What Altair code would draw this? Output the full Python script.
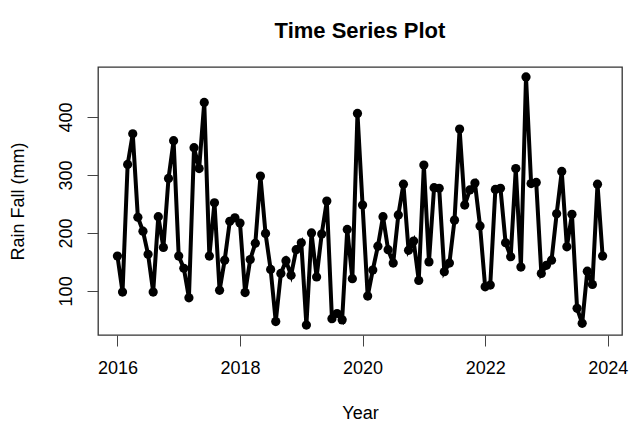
import altair as alt
import pandas as pd

start_year = 2016
rainfall = [
    160, 98, 318, 371, 227, 203, 163, 98, 228, 175, 294, 359,
    160, 139, 88, 347, 311, 425, 160, 252, 101, 153, 220, 226,
    217, 97, 154, 182, 298, 199, 137, 47, 130, 152, 127, 171,
    183, 41, 200, 124, 198, 255, 52, 61, 50, 206, 121, 406,
    248, 91, 136, 177, 228, 171, 148, 231, 284, 170, 186, 118,
    317, 150, 278, 277, 133, 148, 222, 379, 248, 274, 286, 212,
    107, 110, 275, 277, 183, 159, 311, 141, 469, 285, 287, 130,
    144, 153, 233, 306, 176, 232, 70, 44, 134, 111, 284, 160,
]
x_ticks = [2016, 2018, 2020, 2022, 2024]
y_ticks = [100, 200, 300, 400]

df = pd.DataFrame({
    "year": [start_year + i / 12 for i in range(len(rainfall))],
    "rain": rainfall,
})

FONT = "Liberation Sans"

x_enc = alt.X(
    "year:Q",
    scale=alt.Scale(domain=[2015.683, 2024.233], nice=False, zero=False),
    axis=alt.Axis(
        values=x_ticks, format="d", title="Year", grid=False, domain=False,
        tickSize=11, tickColor="#444", tickWidth=1,
        labelFontSize=18, labelFont=FONT, labelColor="#000", labelPadding=13,
        titleFontSize=18, titleFont=FONT, titleFontWeight="normal", titleColor="#000",
        titleX=262, titleY=78, titleBaseline="middle", titleAlign="center",
    ),
)
y_enc = alt.Y(
    "rain:Q",
    scale=alt.Scale(domain=[23.9, 486.1], nice=False, zero=False),
    axis=alt.Axis(
        values=y_ticks, format="d", title="Rain Fall (mm)", grid=False, domain=False,
        tickSize=11, tickColor="#444", tickWidth=1,
        labelFontSize=18, labelFont=FONT, labelColor="#000", labelAngle=270,
        labelAlign="center", labelBaseline="bottom", labelPadding=12,
        titleFontSize=18, titleFont=FONT, titleFontWeight="normal", titleColor="#000",
        titleX=-80, titleY=134, titleBaseline="middle", titleAlign="center", titleAngle=270,
    ),
)

base = alt.Chart(df).encode(x=x_enc, y=y_enc)
line = base.mark_line(color="black", strokeWidth=4)
pts = base.mark_circle(color="black", opacity=1, size=85)

chart = (
    alt.layer(line, pts)
    .properties(
        width=524,
        height=268,
        autosize=alt.AutoSizeParams(type="none"),
        padding={"left": 98, "top": 67, "right": 9, "bottom": 88},
        view=alt.ViewBackground(stroke="#333", strokeWidth=1.3, fill="white"),
        title=alt.TitleParams(
            "Time Series Plot", font=FONT, fontSize=22, fontWeight="bold",
            color="#000", anchor="middle", baseline="alphabetic", offset=7,
        ),
    )
    .configure_view(stroke="#333", strokeWidth=1.3)
    .configure(background="white")
)

chart.save("out.html", embed_options={"renderer": "svg", "actions": False})
